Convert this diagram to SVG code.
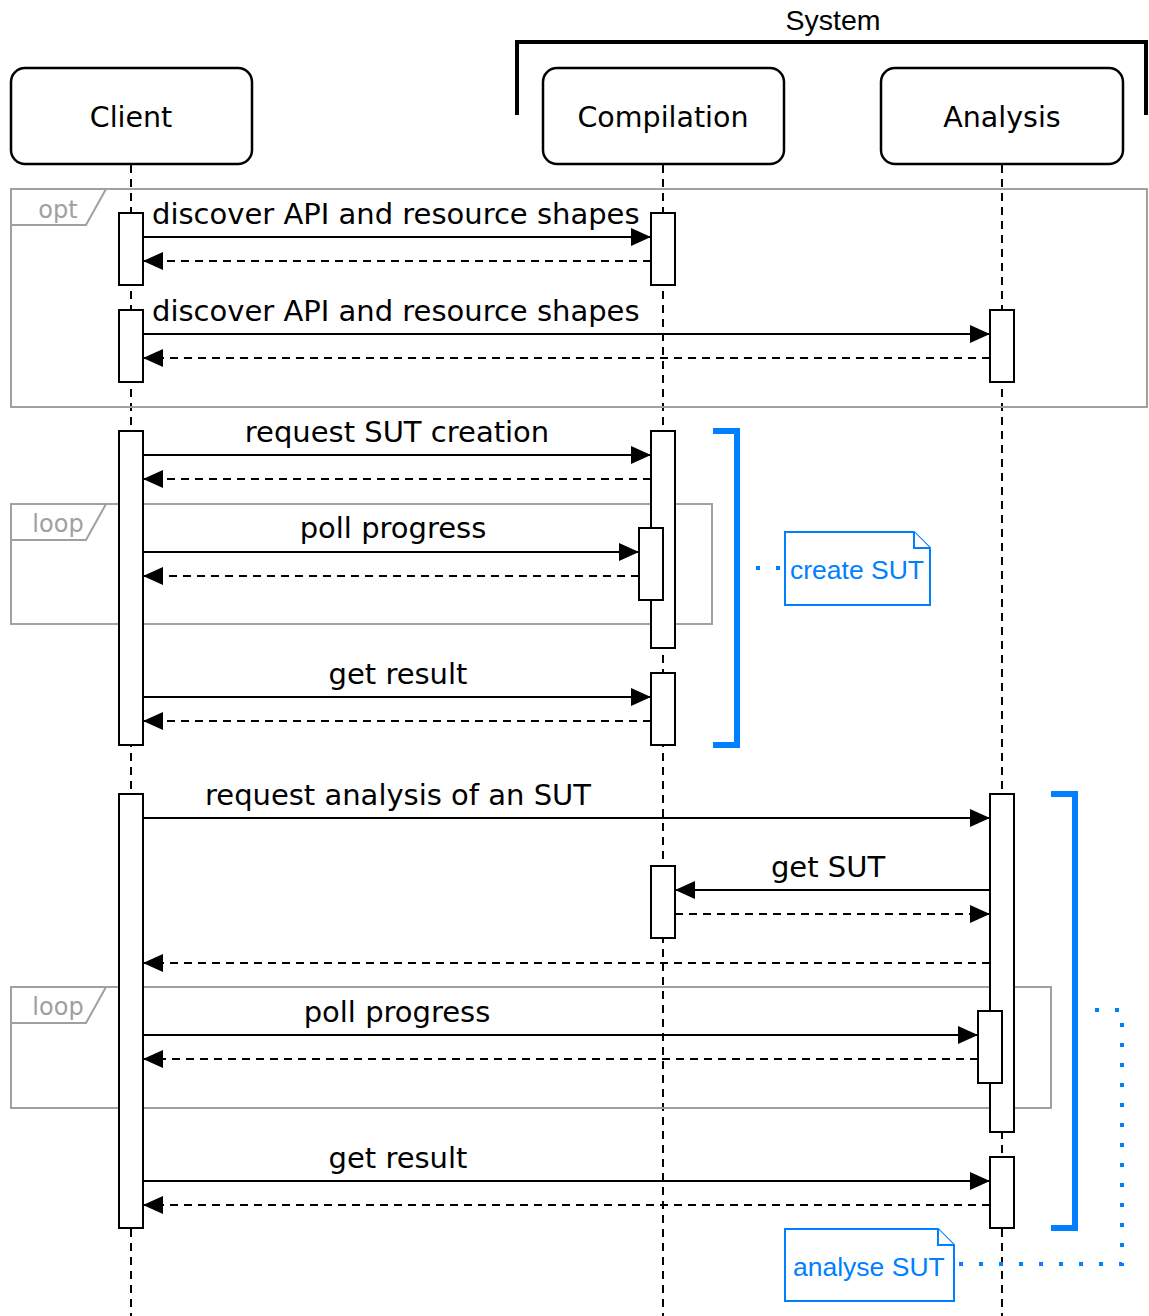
<svg xmlns="http://www.w3.org/2000/svg" width="1149" height="1316" viewBox="0 0 1149 1316">
<style>
.head{fill:#fff;stroke:#000;stroke-width:2.5}
.ht{font-family:"DejaVu Sans",sans-serif;font-size:28.5px;fill:#000;text-anchor:middle}
.life{stroke:#000;stroke-width:2;stroke-dasharray:8 6;fill:none}
.act{fill:#fff;stroke:#000;stroke-width:2}
.msg{stroke:#000;stroke-width:2.2;fill:none}
.ret{stroke:#000;stroke-width:2.2;fill:none;stroke-dasharray:8 6}
.lbl{font-family:"DejaVu Sans",sans-serif;font-size:29px;fill:#000;text-anchor:middle}
.frame{fill:none;stroke:#a0a0a0;stroke-width:2}
.ftag{font-family:"DejaVu Sans",sans-serif;font-size:24px;fill:#a0a0a0;text-anchor:middle}
.blue{stroke:#007fff;stroke-width:6;fill:none}
.dot{stroke:#007fff;stroke-width:4;fill:none;stroke-dasharray:4 16}
.note{fill:#fff;stroke:#007fff;stroke-width:2}
.nt{font-family:"Liberation Sans",Arial,sans-serif;font-size:26.5px;fill:#007fff}
</style>
<defs>
<marker id="ah" viewBox="0 0 20 18" refX="20" refY="9" markerWidth="20" markerHeight="18" markerUnits="userSpaceOnUse" orient="auto">
<path d="M0,0 L20,9 L0,18 Z" fill="#000"/>
</marker>
</defs>

<g id="system">
<path d="M517,115 L517,42 L1146,42 L1146,115" fill="none" stroke="#000" stroke-width="4"/>
<text x="833" y="30" font-family="Liberation Sans,Arial,sans-serif" font-size="28.5" text-anchor="middle">System</text>
</g>

<g id="lifelines">
<line class="life" x1="131" y1="165" x2="131" y2="1316"/>
<line class="life" x1="663" y1="165" x2="663" y2="1316"/>
<line class="life" x1="1002" y1="165" x2="1002" y2="1316"/>
</g>

<g id="client"><rect class="head" x="11" y="68" width="241" height="96" rx="14"/><text class="ht" x="131" y="127">Client</text></g>
<g id="compilation"><rect class="head" x="543" y="68" width="241" height="96" rx="14"/><text class="ht" x="663" y="127">Compilation</text></g>
<g id="analysis"><rect class="head" x="881" y="68" width="242" height="96" rx="14"/><text class="ht" x="1002" y="127">Analysis</text></g>

<g id="frames">
<rect class="frame" x="11" y="189" width="1136" height="218"/>
<path class="frame" d="M11,225 L86,225 L106,189"/>
<text class="ftag" x="58" y="218">opt</text>
<rect class="frame" x="11" y="504" width="701" height="120"/>
<path class="frame" d="M11,540 L86,540 L106,504"/>
<text class="ftag" x="58" y="532">loop</text>
<rect class="frame" x="11" y="987" width="1040" height="121"/>
<path class="frame" d="M11,1023 L86,1023 L106,987"/>
<text class="ftag" x="58" y="1015">loop</text>
</g>

<g id="activations">
<rect class="act" x="119" y="213" width="24" height="72"/>
<rect class="act" x="651" y="213" width="24" height="72"/>
<rect class="act" x="119" y="310" width="24" height="72"/>
<rect class="act" x="990" y="310" width="24" height="72"/>
<rect class="act" x="119" y="431" width="24" height="314"/>
<rect class="act" x="651" y="431" width="24" height="217"/>
<rect class="act" x="639" y="528" width="24" height="72"/>
<rect class="act" x="651" y="673" width="24" height="72"/>
<rect class="act" x="119" y="794" width="24" height="434"/>
<rect class="act" x="990" y="794" width="24" height="338"/>
<rect class="act" x="651" y="866" width="24" height="72"/>
<rect class="act" x="978" y="1011" width="24" height="72"/>
<rect class="act" x="990" y="1157" width="24" height="71"/>
</g>

<g id="connectors">
<line class="msg" x1="143" y1="237" x2="651" y2="237" marker-end="url(#ah)"/>
<line class="ret" x1="651" y1="261" x2="143" y2="261" marker-end="url(#ah)"/>
<line class="msg" x1="143" y1="334" x2="990" y2="334" marker-end="url(#ah)"/>
<line class="ret" x1="990" y1="358" x2="143" y2="358" marker-end="url(#ah)"/>
<line class="msg" x1="143" y1="455" x2="651" y2="455" marker-end="url(#ah)"/>
<line class="ret" x1="651" y1="479" x2="143" y2="479" marker-end="url(#ah)"/>
<line class="msg" x1="143" y1="552" x2="639" y2="552" marker-end="url(#ah)"/>
<line class="ret" x1="639" y1="576" x2="143" y2="576" marker-end="url(#ah)"/>
<line class="msg" x1="143" y1="697" x2="651" y2="697" marker-end="url(#ah)"/>
<line class="ret" x1="651" y1="721" x2="143" y2="721" marker-end="url(#ah)"/>
<line class="msg" x1="143" y1="818" x2="990" y2="818" marker-end="url(#ah)"/>
<line class="msg" x1="990" y1="890" x2="675" y2="890" marker-end="url(#ah)"/>
<line class="ret" x1="675" y1="914" x2="990" y2="914" marker-end="url(#ah)"/>
<line class="ret" x1="990" y1="963" x2="143" y2="963" marker-end="url(#ah)"/>
<line class="msg" x1="143" y1="1035" x2="978" y2="1035" marker-end="url(#ah)"/>
<line class="ret" x1="978" y1="1059" x2="143" y2="1059" marker-end="url(#ah)"/>
<line class="msg" x1="143" y1="1181" x2="990" y2="1181" marker-end="url(#ah)"/>
<line class="ret" x1="990" y1="1205" x2="143" y2="1205" marker-end="url(#ah)"/>
</g>

<g id="labels">
<text class="lbl" x="152" y="224" style="text-anchor:start">discover API and resource shapes</text>
<text class="lbl" x="152" y="321" style="text-anchor:start">discover API and resource shapes</text>
<text class="lbl" x="397" y="442">request SUT creation</text>
<text class="lbl" x="393" y="538">poll progress</text>
<text class="lbl" x="398" y="684">get result</text>
<text class="lbl" x="398" y="805">request analysis of an SUT</text>
<text class="lbl" x="828" y="877">get SUT</text>
<text class="lbl" x="397" y="1022">poll progress</text>
<text class="lbl" x="398" y="1168">get result</text>
</g>

<g id="create-sut">
<path class="blue" d="M713,431 L737,431 L737,745 L713,745"/>
<line class="dot" x1="756" y1="568" x2="784" y2="568"/>
<path class="note" d="M785,532 L914,532 L930,548 L930,605 L785,605 Z"/>
<path class="note" d="M914,532 L914,548 L930,548" fill="none"/>
<text class="nt" x="790" y="579">create SUT</text>
</g>

<g id="analyse-sut">
<path class="blue" d="M1051,794 L1075,794 L1075,1228 L1051,1228"/>
<path class="dot" d="M1095,1010 L1122,1010 L1122,1264 L955,1264"/>
<path class="note" d="M785,1229 L938,1229 L954,1245 L954,1301 L785,1301 Z"/>
<path class="note" d="M938,1229 L938,1245 L954,1245" fill="none"/>
<text class="nt" x="793" y="1276">analyse SUT</text>
</g>
</svg>
